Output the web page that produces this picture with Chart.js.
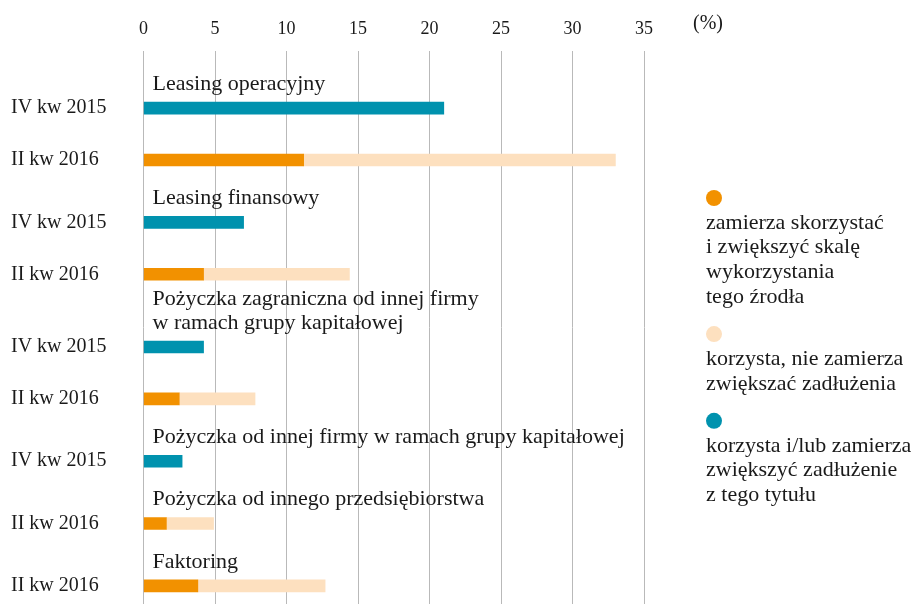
<!DOCTYPE html>
<html>
<head>
<meta charset="utf-8">
<script src="https://cdn.jsdelivr.net/npm/chart.js@4/dist/chart.umd.min.js"></script>
<style>
  html, body { margin: 0; background: #fff; }
  #wrap { width: 914px; height: 604px; }
</style>
</head>
<body>
<div id="wrap"><canvas id="chart"></canvas></div>
<script>
// group headers (one entry per line)
const groupTitles = [
  ['Leasing operacyjny'],
  ['Leasing finansowy'],
  ['Pożyczka zagraniczna od innej firmy', 'w ramach grupy kapitałowej'],
  ['Pożyczka od innej firmy w ramach grupy kapitałowej'],
  ['Pożyczka od innego przedsiębiorstwa'],
  ['Faktoring']
];
const rowLabels = ['IV kw 2015', 'II kw 2016', 'IV kw 2015', 'II kw 2016', 'IV kw 2015',
                   'II kw 2016', 'IV kw 2015', 'II kw 2016', 'II kw 2016'];
const rowGroup = [0, 0, 1, 1, 2, 2, 3, 4, 5];

// values in %
const zamierza  = [null, 11.2, null, 4.2, null, 2.5, null, 1.6, 3.8];
const korzysta  = [null, 21.8, null, 10.2, null, 5.3, null, 3.3, 8.9];
const zadluzone = [21.0, null, 7.0, null, 4.2, null, 2.7, null, null];

const legendLabels = [
  ['zamierza skorzystać', 'i zwiększyć skalę', 'wykorzystania', 'tego źrodła'],
  ['korzysta, nie zamierza', 'zwiększać zadłużenia'],
  ['korzysta i/lub zamierza', 'zwiększyć zadłużenie', 'z tego tytułu']
];
const unitLabel = '(%)';

const colors = ['#f29100', '#fde0bf', '#0092ae'];
const FONT = 'Liberation Serif';
const INK = '#1a1a1a';

// each row takes one unit, each header line adds a bit of room
var rowPos = [];
var lines = 0, lastGroup = -1;
rowLabels.forEach(function (l, i) {
  if (rowGroup[i] != lastGroup) {
    lines += groupTitles[rowGroup[i]].length;
    lastGroup = rowGroup[i];
  }
  rowPos.push(i + 0.2 * lines);
});

function points(vals) {
  return vals.map(function (v, i) { return { x: v, y: rowPos[i] }; });
}

const extras = {
  id: 'extras',
  afterDatasetsDraw: function (chart) {
    const ctx = chart.ctx;
    const xs = chart.scales.x, ys = chart.scales.y;
    ctx.save();
    ctx.fillStyle = INK;
    ctx.textBaseline = 'middle';
    ctx.textAlign = 'left';

    // group headers above their first row
    ctx.font = '22px "' + FONT + '"';
    groupTitles.forEach(function (t, g) {
      const first = rowGroup.indexOf(g);
      const y = ys.getPixelForValue(rowPos[first]);
      t.forEach(function (line, k) {
        ctx.fillText(line, xs.getPixelForValue(0) + 9, y - 24 - 24 * (t.length - 1 - k));
      });
    });

    // unit label
    ctx.font = '20px "' + FONT + '"';
    ctx.fillText(unitLabel, chart.chartArea.right + 49, 24);

    // legend
    ctx.font = '22px "' + FONT + '"';
    const lx = chart.chartArea.right + 62;
    let y = 198;
    [0, 1, 2].forEach(function (d) {
      ctx.fillStyle = colors[d];
      ctx.beginPath();
      ctx.arc(lx + 8, y, 8, 0, Math.PI * 2);
      ctx.fill();
      ctx.fillStyle = INK;
      y += 25;
      legendLabels[d].forEach(function (line, k) {
        ctx.fillText(line, lx, y);
        if (k < legendLabels[d].length - 1) y += 24.7;
      });
      y += 37;
    });
    ctx.restore();
  }
};

new Chart(document.getElementById('chart'), {
  type: 'bar',
  data: {
    datasets: [
      { label: legendLabels[0].join(' '), data: points(zamierza), backgroundColor: colors[0] },
      { label: legendLabels[1].join(' '), data: points(korzysta), backgroundColor: colors[1] },
      { label: legendLabels[2].join(' '), data: points(zadluzone), backgroundColor: colors[2] }
    ]
  },
  options: {
    indexAxis: 'y',
    responsive: true,
    maintainAspectRatio: false,
    animation: false,
    barThickness: 12,
    layout: { padding: { left: 11, right: 270, top: 0, bottom: 0 } },
    plugins: { legend: { display: false }, tooltip: { enabled: false } },
    scales: {
      x: {
        position: 'top',
        stacked: true,
        min: 0,
        max: 35,
        ticks: { stepSize: 5, padding: 11, color: INK, font: { family: FONT, size: 18 } },
        grid: { color: '#b9b9b9', lineWidth: 1, drawTicks: false },
        border: { display: false },
        afterFit: function (s) { s.height = 51; }
      },
      y: {
        type: 'linear',
        reverse: true,
        stacked: true,
        offset: false,
        min: -0.9,
        max: 9.75,
        afterBuildTicks: function (s) {
          s.ticks = rowPos.map(function (v) { return { value: v }; });
        },
        ticks: {
          crossAlign: 'far',
          color: INK,
          font: { family: FONT, size: 20 },
          callback: function (v, i) { return rowLabels[i]; }
        },
        grid: { display: false },
        border: { display: false },
        afterFit: function (s) { s.width = 132.5; s.paddingTop = 0; s.paddingBottom = 0; }
      }
    }
  },
  plugins: [extras]
});
</script>
</body>
</html>
